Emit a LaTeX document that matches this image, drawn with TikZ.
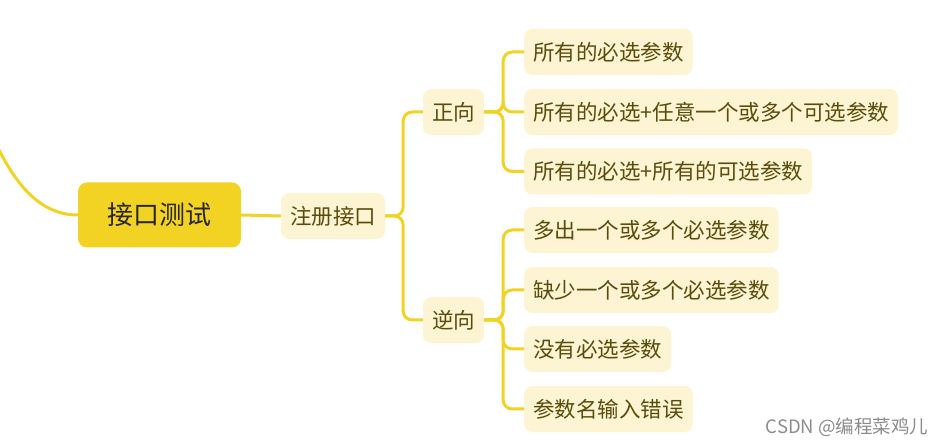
\documentclass[tikz,border=0pt]{standalone}
\usepackage{fontspec}
\newfontfamily\cjk{Noto Sans CJK SC}
\usetikzlibrary{positioning}

\definecolor{mindgold}{HTML}{F2D323}
\definecolor{mindpale}{HTML}{FCF4D2}
\definecolor{mindtext}{HTML}{5A4C0C}

\tikzset{
mainbox/.style={fill=mindgold,rounded corners=9pt,minimum width=163pt,minimum height=65pt,
  font=\cjk\fontsize{26}{30}\selectfont,text=black!85},
subbox/.style={fill=mindpale,rounded corners=8pt,minimum height=46pt,inner xsep=9pt,
  font=\cjk\fontsize{21.5}{24}\selectfont,text=mindtext},
leafbox/.style={subbox,anchor=west},
branch/.style={draw=mindgold,line width=3pt,rounded corners=9pt}
}

\begin{document}
\begin{tikzpicture}[x=1pt,y=-1pt]
\useasboundingbox (0,0) rectangle (946,446);

% Root and first level
\node[mainbox] (root) at (159.5,215) {接口测试};
\node[subbox] (reg) at (333,216) {注册接口};
\node[subbox] (pos) at (453.5,112) {正向};
\node[subbox] (neg) at (453.5,320) {逆向};

% Leaves
\node[leafbox] (p1) at (524,52) {所有的必选参数};
\node[leafbox] (p2) at (524,112) {所有的必选+任意一个或多个可选参数};
\node[leafbox] (p3) at (524,171.5) {所有的必选+所有的可选参数};
\node[leafbox] (n1) at (524,230) {多出一个或多个必选参数};
\node[leafbox] (n2) at (524,290) {缺少一个或多个必选参数};
\node[leafbox] (n3) at (524,349) {没有必选参数};
\node[leafbox] (n4) at (524,409) {参数名输入错误};

% Connectors
\coordinate (up) at (-2,148);
\draw[branch,rounded corners=0pt] (root.west) .. controls (35,215) and (12,175) .. (up);
\draw[branch] (root.east) -- (reg.west);
\foreach \k in {pos,neg}
{
\draw[branch] (reg.east) -- ++(18,0) |- (\k.west);
}
\foreach \k in {p1,p2,p3}
{
\draw[branch] (pos.east) -- ++(19,0) |- (\k.west);
}
\foreach \k in {n1,n2,n3,n4}
{
\draw[branch] (neg.east) -- ++(19,0) |- (\k.west);
}

% Watermark
\node[text=black!45,font=\cjk\fontsize{18.5}{20}\selectfont,anchor=east] (mark) at (932,427) {CSDN @编程菜鸡儿};

\end{tikzpicture}
\end{document}
